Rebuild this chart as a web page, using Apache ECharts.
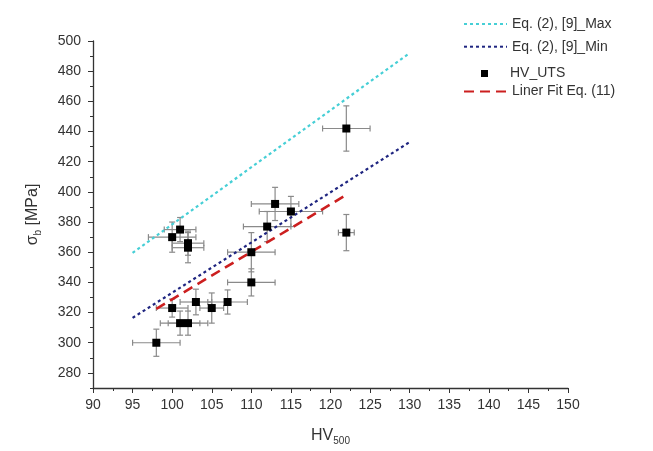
<!DOCTYPE html>
<html>
<head>
<meta charset="utf-8">
<script src="https://cdn.jsdelivr.net/npm/echarts@6/dist/echarts.min.js"></script>
<style>
  html, body { margin: 0; padding: 0; background: #fff; }
  #chart { width: 653px; height: 451px; }
</style>
</head>
<body>
<div id="chart"></div>
<script>
// Measured hardness (HV500) vs. ultimate tensile strength
const hv      = [98, 100, 101, 102, 103, 105, 107, 110, 110, 112, 113, 115, 100, 101, 102, 102, 122, 122];
const uts     = [300, 323, 313, 313, 327, 323, 327, 340, 360, 377, 392, 387, 370, 375, 366, 363, 442, 373];
const hvErr   = [3, 2, 2.5, 2.5, 2, 1.5, 2.5, 3, 3, 3, 3, 4, 3, 2, 2, 2, 3, 1];
const utsErr  = [9, 6, 8, 8, 8.5, 10, 8, 9, 13, 10, 11, 10, 10, 8, 8, 10, 15, 12];

// Eq. (2) bounds from [9] and the linear fit, Eq. (11)
const maxLineHV = [95, 130];
const maxLineSb = [359.5, 492];
const minLineHV = [95, 130];
const minLineSb = [316.5, 433];
const fitLineHV = [98, 122];
const fitLineSb = [322.5, 398];

// Axis ticks
const yMajorTicks = [280, 300, 320, 340, 360, 380, 400, 420, 440, 460, 480, 500];
const yMinorTicks = [270, 290, 310, 330, 350, 370, 390, 410, 430, 450, 470, 490];

const pairs = (xs, ys) => xs.map((x, i) => [x, ys[i]]);
const points = pairs(hv, uts);
const errData = hv.map((x, i) => [x, uts[i], hvErr[i], utsErr[i]]);

const FONT = 'Liberation Sans, Arial, sans-serif';
const TXT = '#333';

const chart = echarts.init(document.getElementById('chart'));

const axisCommon = {
  axisLine: { show: true, onZero: false, lineStyle: { color: '#333', width: 1.3 } },
  splitLine: { show: false }
};

// line-only legend entries: hide the marker drawn in the middle of the sample line
const hiddenMarker = { color: 'rgba(0,0,0,0)', borderWidth: 0 };

chart.setOption({
  animation: false,
  backgroundColor: '#fff',
  grid: { left: 93, top: 41, width: 475, height: 349, containLabel: false },
  legend: [
    {
      orient: 'vertical', left: 463, top: 17, itemGap: 8.7, padding: 0,
      itemWidth: 43, itemHeight: 14, itemStyle: hiddenMarker,
      textStyle: { fontFamily: FONT, fontSize: 14, color: TXT },
      data: ['Eq. (2), [9]_Max', 'Eq. (2), [9]_Min']
    },
    {
      orient: 'vertical', left: 481, top: 66.5, padding: 0,
      itemWidth: 7, itemHeight: 7,
      textStyle: { fontFamily: FONT, fontSize: 14, color: TXT, padding: [0, 0, 0, 17] },
      data: ['HV_UTS']
    },
    {
      orient: 'vertical', left: 463, top: 84.5, padding: 0,
      itemWidth: 43, itemHeight: 14, itemStyle: hiddenMarker,
      textStyle: { fontFamily: FONT, fontSize: 14, color: TXT },
      data: ['Liner Fit Eq. (11)']
    }
  ],
  xAxis: {
    ...axisCommon,
    type: 'value', min: 90, max: 150, interval: 5,
    name: 'HV{sub|500}', nameLocation: 'middle', nameGap: 38,
    nameTextStyle: {
      fontFamily: FONT, fontSize: 16, color: TXT,
      rich: { sub: { fontFamily: FONT, fontSize: 10, color: TXT, verticalAlign: 'bottom', padding: [10, 0, 0, 0] } }
    },
    axisTick: { show: true, length: 5, inside: false, lineStyle: { color: '#333' } },
    minorTick: { show: true, splitNumber: 2, length: 3, lineStyle: { color: '#333' } },
    axisLabel: { fontFamily: FONT, fontSize: 14, color: TXT, margin: 10 }
  },
  yAxis: [
    {
      ...axisCommon,
      type: 'value', min: 270, max: 500,
      name: 'σ{sub|b} [MPa]', nameLocation: 'middle', nameGap: 50, nameRotate: 90,
      nameTextStyle: {
        fontFamily: FONT, fontSize: 16, color: TXT,
        rich: { sub: { fontFamily: FONT, fontSize: 10, color: TXT, verticalAlign: 'bottom', padding: [10, 0, 0, 0] } }
      },
      axisTick: { show: true, length: 5, customValues: yMajorTicks, lineStyle: { color: '#333' } },
      axisLabel: { fontFamily: FONT, fontSize: 14, color: TXT, margin: 12, customValues: yMajorTicks }
    },
    {
      type: 'value', min: 270, max: 500, position: 'left',
      axisLine: { show: false }, splitLine: { show: false },
      axisTick: { show: true, length: 3, customValues: yMinorTicks, lineStyle: { color: '#333' } },
      axisLabel: { show: false, customValues: yMinorTicks }
    }
  ],
  series: [
    {
      name: 'Eq. (2), [9]_Max', type: 'line', data: pairs(maxLineHV, maxLineSb),
      symbol: 'none', showSymbol: false, color: '#46cfd6',
      lineStyle: { color: '#46cfd6', width: 2.2, type: [3, 3] }, z: 3
    },
    {
      name: 'Eq. (2), [9]_Min', type: 'line', data: pairs(minLineHV, minLineSb),
      symbol: 'none', showSymbol: false, color: '#1f2580',
      lineStyle: { color: '#1f2580', width: 2.2, type: [3, 3] }, z: 3
    },
    {
      name: 'error', type: 'custom', data: errData, z: 2,
      renderItem: function (params, api) {
        const x = api.value(0), y = api.value(1), ex = api.value(2), ey = api.value(3);
        const c = api.coord([x, y]);
        const l = api.coord([x - ex, y]), r = api.coord([x + ex, y]);
        const t = api.coord([x, y + ey]), b = api.coord([x, y - ey]);
        const cap = 3;
        const st = { stroke: '#8a8a8a', lineWidth: 1.2 };
        const seg = (x1, y1, x2, y2) => ({ type: 'line', shape: { x1, y1, x2, y2 }, style: st });
        return {
          type: 'group',
          children: [
            seg(l[0], c[1], r[0], c[1]),
            seg(l[0], c[1] - cap, l[0], c[1] + cap),
            seg(r[0], c[1] - cap, r[0], c[1] + cap),
            seg(c[0], t[1], c[0], b[1]),
            seg(c[0] - cap, t[1], c[0] + cap, t[1]),
            seg(c[0] - cap, b[1], c[0] + cap, b[1])
          ]
        };
      }
    },
    {
      name: 'HV_UTS', type: 'scatter', data: points, symbol: 'rect', symbolSize: 8,
      itemStyle: { color: '#000', opacity: 1 }, z: 5
    },
    {
      name: 'Liner Fit Eq. (11)', type: 'line', data: pairs(fitLineHV, fitLineSb),
      symbol: 'none', showSymbol: false, color: '#cc1f1f',
      lineStyle: { color: '#cc1f1f', width: 2.6, type: [10, 6] }, z: 4
    }
  ]
});
</script>
</body>
</html>
